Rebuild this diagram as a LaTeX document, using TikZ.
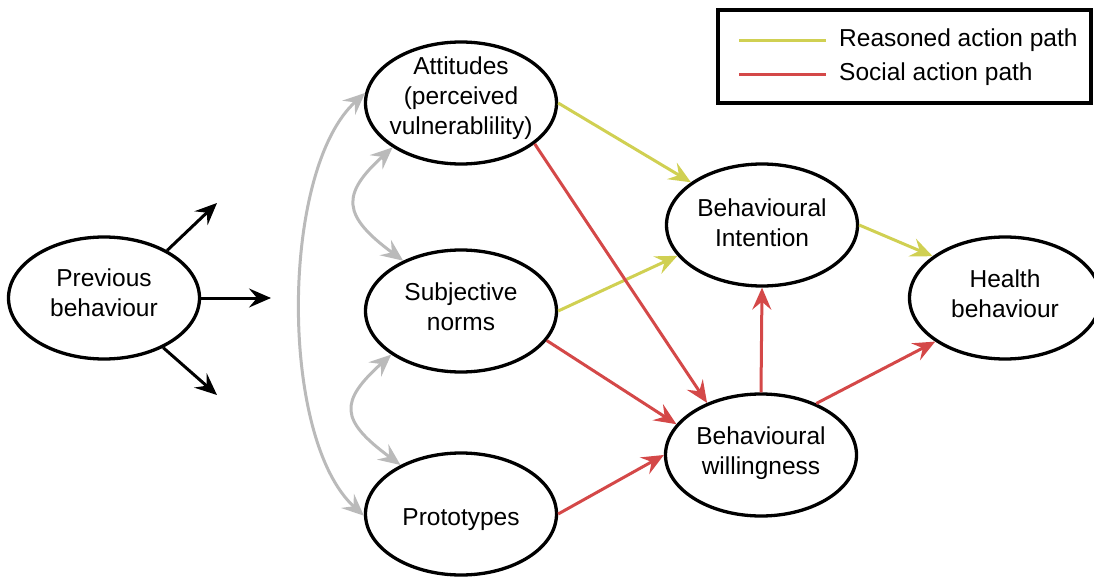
\documentclass[tikz,border=0pt]{standalone}
\usepackage{fontspec}
\setmainfont{Liberation Sans}
\usetikzlibrary{shapes.geometric,arrows.meta}
\definecolor{reasoned}{RGB}{208,208,82}
\definecolor{social}{RGB}{212,72,72}
\definecolor{corr}{RGB}{186,186,186}
% centred multi-line text that does not enlarge the ellipse
\newcommand\bubtext[2][-4pt]{\makebox[0pt]{\raisebox{#1}[0pt][0pt]{\begin{tabular}{@{}c@{}}#2\end{tabular}}}}

\begin{document}
\begin{tikzpicture}[x=1pt,y=-1pt,
  bub/.style={ellipse,draw,line width=3.3pt,minimum width=191pt,minimum height=122pt,
    inner sep=0pt,font=\fontsize{24.5}{30}\selectfont},
  tip/.style={-{Stealth[length=22pt,width=19pt,inset=8pt]}},
  dtip/.style={{Stealth[length=22pt,width=19pt,inset=8pt]}-{Stealth[length=22pt,width=19pt,inset=8pt]}},
  prevarrow/.style={tip,black,line width=3pt},
  corrarrow/.style={dtip,corr,line width=3pt},
  rapath/.style={tip,reasoned,line width=3pt},
  sapath/.style={tip,social,line width=3pt},
  legtext/.style={anchor=west,inner sep=0pt,font=\fontsize{24.5}{30}\selectfont}
]
\useasboundingbox (0,0) rectangle (1094,577);

% constructs
\node[bub] (prev)  at (104,298) {\bubtext{Previous\\behaviour}};
\node[bub] (att)   at (461,103) {\bubtext[-2pt]{Attitudes\\(perceived\\vulnerablility)}};
\node[bub] (subj)  at (461,311) {\bubtext[-5pt]{Subjective\\norms}};
\node[bub] (proto) at (461,514) {\bubtext[-12pt]{Prototypes}};
\node[bub] (int)   at (762,225) {\bubtext[-7pt]{Behavioural\\Intention}};
\node[bub] (will)  at (761,455) {\bubtext[-5pt]{Behavioural\\willingness}};
\node[bub] (hb)    at (1005,298) {\bubtext[-4.5pt]{Health\\behaviour}};

% influence of previous behaviour
\coordinate (pbUp)  at (217,203);
\coordinate (pbMid) at (271,298);
\coordinate (pbLow) at (217,395);
\draw[prevarrow] (prev.37)  -- (pbUp);
\draw[prevarrow] (prev.east) -- (pbMid);
\draw[prevarrow] (prev.320) -- (pbLow);

% correlations between predictors
\draw[corrarrow] (att.174) .. controls +(-85,77) and +(-85,-77) .. (proto.181);
\draw[corrarrow] (att.213) .. controls +(-52,47) and +(-61,-45) .. (subj.139);
\draw[corrarrow] (subj.212) .. controls +(-52,47) and +(-61,-45) .. (proto.141);

% reasoned action path
\draw[rapath] (att.east)  -- (int.149);
\draw[rapath] (subj.east) -- (int.200);
\draw[rapath] (int.east)  -- (hb.150);

% social reaction path
\draw[sapath] (att.331)  -- (will.136);
\draw[sapath] (subj.341) -- (will.160);
\draw[sapath] (proto.east) -- (will.180);
\draw[sapath] (will.north) -- (int.south);
\draw[sapath] (will.43) -- (hb.212);

% legend
\node[draw,line width=3.3pt,minimum width=373pt,minimum height=93pt,inner sep=0pt] (legend) at (904.5,56.5) {};
\coordinate (raA) at (739,41);
\coordinate (raB) at (826,41);
\coordinate (saA) at (739,75);
\coordinate (saB) at (826,75);
\draw[reasoned,line width=3pt] (raA) -- (raB);
\draw[social,line width=3pt] (saA) -- (saB);
\node[legtext] (raText) at (839,40) {Reasoned action path};
\node[legtext] (saText) at (839,74) {Social action path};
\end{tikzpicture}
\end{document}
